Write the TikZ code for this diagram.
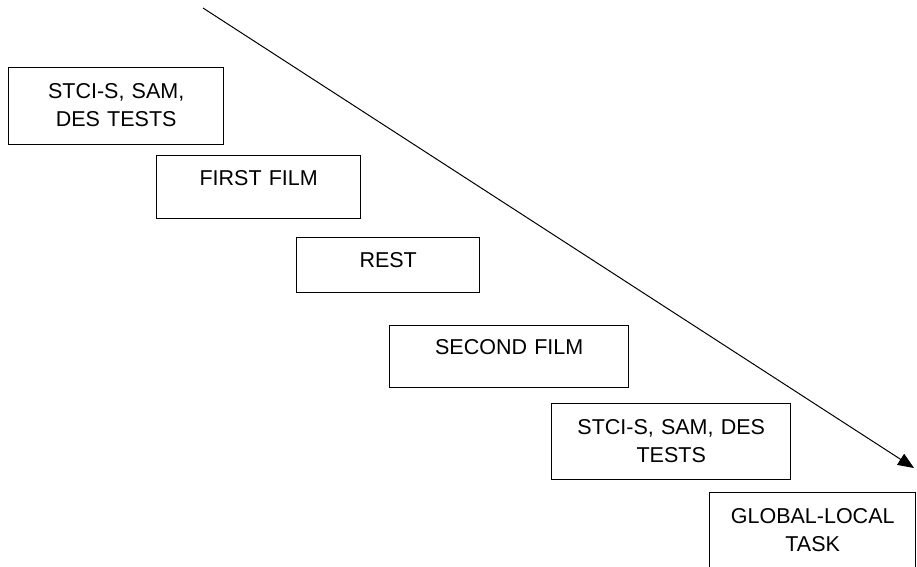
\documentclass[tikz,border=0pt]{standalone}
\usepackage{fontspec}
\setmainfont{Liberation Sans}
\usetikzlibrary{arrows.meta}

\begin{document}
\begin{tikzpicture}[x=1pt,y=-1pt]
	\tikzstyle{phase}=[draw,line width=1.4pt,anchor=north west,inner sep=0pt,align=center,font=\fontsize{21.5}{28}\selectfont];
	\useasboundingbox (0,0) rectangle (917,566);
	%% stages
	\node[phase,text width=215pt,text height=31pt,  text depth=46pt]   (pre)    at (8,67)    {STCI-S, SAM,\\DES TESTS};
	\node[phase,text width=204pt,text height=30pt,  text depth=33pt]   (film1)  at (156,155) {FIRST FILM};
	\node[phase,text width=183pt,text height=30pt,  text depth=25pt]   (rest)   at (296,237) {REST};
	\node[phase,text width=239pt,text height=28.5pt,text depth=33.5pt] (film2)  at (389,325) {SECOND FILM};
	\node[phase,text width=239pt,text height=30.5pt,text depth=45.5pt] (post)   at (551,403) {STCI-S, SAM, DES\\TESTS};
	\node[phase,text width=206pt,text height=31pt,  text depth=59pt]   (global) at (709,492) {GLOBAL-LOCAL\\TASK};
	%% time arrow
	\coordinate (tstart) at (203,8);
	\coordinate (tend)   at (914,468);
	\draw[line width=1pt,-{Triangle[length=16pt,width=13pt]}] (tstart) -- (tend);
\end{tikzpicture}
\end{document}
